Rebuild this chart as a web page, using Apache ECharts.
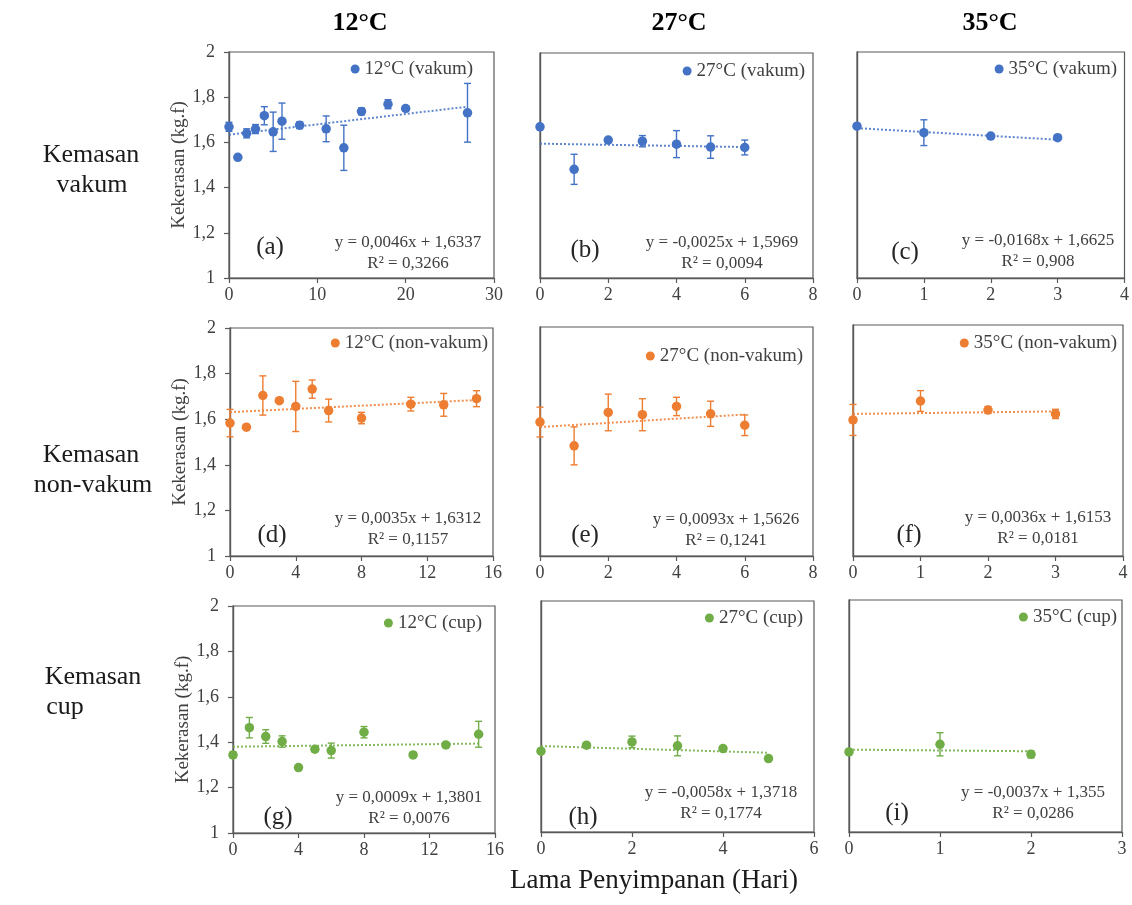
<!DOCTYPE html>
<html><head><meta charset="utf-8">
<script src="https://cdn.jsdelivr.net/npm/echarts@6/dist/echarts.min.js"></script>
<style>html,body{margin:0;padding:0;background:#fff}#c{width:1132px;height:905px}</style>
</head><body><div id="c"></div><script>
// ---------------- DATA ----------------
const colHeaders = ['12°C', '27°C', '35°C'];
const rowLabels = [['Kemasan', 'vakum'], ['Kemasan', 'non-vakum'], ['Kemasan', 'cup']];
const xAxisTitle = 'Lama Penyimpanan (Hari)';
const yAxisTitle = 'Kekerasan (kg.f)';
const yTickLabels = ['1', '1,2', '1,4', '1,6', '1,8', '2'];

const seriesNames = ['12°C (vakum)', '27°C (vakum)', '35°C (vakum)',
  '12°C (non-vakum)', '27°C (non-vakum)', '35°C (non-vakum)',
  '12°C (cup)', '27°C (cup)', '35°C (cup)'];
const panelTags = ['(a)', '(b)', '(c)', '(d)', '(e)', '(f)', '(g)', '(h)', '(i)'];
const eqLines = ['y = 0,0046x + 1,6337', 'y = -0,0025x + 1,5969', 'y = -0,0168x + 1,6625',
  'y = 0,0035x + 1,6312', 'y = 0,0093x + 1,5626', 'y = 0,0036x + 1,6153',
  'y = 0,0009x + 1,3801', 'y = -0,0058x + 1,3718', 'y = -0,0037x + 1,355'];
const r2Lines = ['R² = 0,3266', 'R² = 0,0094', 'R² = 0,908',
  'R² = 0,1157', 'R² = 0,1241', 'R² = 0,0181',
  'R² = 0,0076', 'R² = 0,1774', 'R² = 0,0286'];
const xMaxes = [30, 8, 4, 16, 8, 4, 16, 6, 3];
const xSteps = [10, 2, 1, 4, 2, 1, 4, 2, 1];

// (a) 12°C vakum
const daysA = [0, 1, 2, 3, 4, 5, 6, 8, 11, 13, 15, 18, 20, 27];
const hardA = [1.669, 1.534, 1.640, 1.659, 1.718, 1.647, 1.694, 1.676, 1.660, 1.576, 1.737, 1.769, 1.750, 1.731];
const errA  = [0.020, 0.006, 0.020, 0.020, 0.040, 0.087, 0.080, 0.015, 0.057, 0.100, 0.015, 0.020, 0.010, 0.130];
const trendA = [[0, 1.634], [27, 1.758]];
// (b) 27°C vakum
const daysB = [0, 1, 2, 3, 4, 5, 6];
const hardB = [1.672, 1.483, 1.613, 1.608, 1.595, 1.582, 1.580];
const errB  = [0.006, 0.067, 0.008, 0.025, 0.060, 0.050, 0.033];
const trendB = [[0, 1.597], [6, 1.582]];
// (c) 35°C vakum
const daysC = [0, 1, 2, 3];
const hardC = [1.672, 1.643, 1.628, 1.621];
const errC  = [0.006, 0.057, 0.008, 0.006];
const trendC = [[0, 1.663], [3, 1.612]];
// (d) 12°C non-vakum
const daysD = [0, 1, 2, 3, 4, 5, 6, 8, 11, 13, 15];
const hardD = [1.583, 1.565, 1.704, 1.681, 1.656, 1.732, 1.638, 1.605, 1.666, 1.663, 1.690];
const errD  = [0.060, 0.010, 0.086, 0.006, 0.110, 0.040, 0.050, 0.025, 0.030, 0.050, 0.035];
const trendD = [[0, 1.631], [15, 1.684]];
// (e) 27°C non-vakum
const daysE = [0, 1, 2, 3, 4, 5, 6];
const hardE = [1.585, 1.481, 1.627, 1.617, 1.653, 1.621, 1.571];
const errE  = [0.065, 0.083, 0.080, 0.070, 0.040, 0.055, 0.045];
const trendE = [[0, 1.563], [6, 1.618]];
// (f) 35°C non-vakum
const daysF = [0, 1, 2, 3];
const hardF = [1.589, 1.671, 1.632, 1.615];
const errF  = [0.067, 0.045, 0.015, 0.020];
const trendF = [[0, 1.615], [3, 1.626]];
// (g) 12°C cup
const daysG = [0, 1, 2, 3, 4, 5, 6, 8, 11, 13, 15];
const hardG = [1.344, 1.464, 1.425, 1.403, 1.288, 1.369, 1.363, 1.444, 1.344, 1.388, 1.435];
const errG  = [0.012, 0.045, 0.030, 0.025, 0.006, 0.010, 0.033, 0.025, 0.006, 0.008, 0.057];
const trendG = [[0, 1.380], [15, 1.394]];
// (h) 27°C cup
const daysH = [0, 1, 2, 3, 4, 5];
const hardH = [1.350, 1.376, 1.390, 1.373, 1.361, 1.318];
const errH  = [0.008, 0.008, 0.025, 0.043, 0.008, 0.006];
const trendH = [[0, 1.372], [5, 1.343]];
// (i) 35°C cup
const daysI = [0, 1, 2];
const hardI = [1.345, 1.378, 1.335];
const errI  = [0.006, 0.050, 0.015];
const trendI = [[0, 1.355], [2, 1.348]];

const allDays = [daysA, daysB, daysC, daysD, daysE, daysF, daysG, daysH, daysI];
const allHard = [hardA, hardB, hardC, hardD, hardE, hardF, hardG, hardH, hardI];
const allErr = [errA, errB, errC, errD, errE, errF, errG, errH, errI];
const allTrend = [trendA, trendB, trendC, trendD, trendE, trendF, trendG, trendH, trendI];

// ---------------- LAYOUT / STYLE ----------------
const W = 1132;
const FONT = 'Liberation Serif';
const rowColors = ['#4472C4', '#ED7D31', '#70AD47'];
const axisColor = '#595959';
const textColor = '#404040';
// plot rectangles [left, top, right, bottom]
const rects = [
  [229, 52, 494, 278], [540, 53, 813, 278], [857, 52, 1125, 278],
  [230, 328, 493, 556], [540, 327, 813, 556], [853, 325, 1123, 556],
  [233, 606, 495, 833], [541, 601, 814, 832], [849, 600, 1122, 832]
];
// legend: [text right edge, center y]
const legendPos = [[473, 69], [805, 71], [1117, 69], [488, 343], [803, 356], [1117, 343], [482, 623], [803, 618], [1117, 617]];
// equation block centre [x, y of first line]
const eqPos = [[408, 243], [722, 243], [1038, 241], [408, 519], [726, 520], [1038, 518], [409, 798], [721, 793], [1033, 793]];
const tagPos = [[270, 247], [585, 250], [905, 252], [272, 535], [585, 535], [909, 535], [278, 817], [583, 817], [897, 813]];
const headerPos = [[360, 23], [679, 23], [990, 23]];
const rowLabelPos = [[[91, 155], [92, 185]], [[91, 455], [93, 485]], [[93, 677], [65, 707]]];

const grids = [], xAxes = [], yAxes = [], series = [], legends = [], graphics = [];

function errRenderer(color) {
  return function (params, api) {
    const x = api.value(0), y = api.value(1), e = api.value(2);
    const top = api.coord([x, y + e]);
    const bot = api.coord([x, y - e]);
    const cw = 3.5;
    const style = { stroke: color, lineWidth: 1.4 };
    return {
      type: 'group', children: [
        { type: 'line', shape: { x1: top[0], y1: top[1], x2: bot[0], y2: bot[1] }, style: style },
        { type: 'line', shape: { x1: top[0] - cw, y1: top[1], x2: top[0] + cw, y2: top[1] }, style: style },
        { type: 'line', shape: { x1: bot[0] - cw, y1: bot[1], x2: bot[0] + cw, y2: bot[1] }, style: style }
      ]
    };
  };
}

for (let i = 0; i < 9; i++) {
  const row = Math.floor(i / 3), col = i % 3;
  const color = rowColors[row];
  const r = rects[i];
  grids.push({ left: r[0], top: r[1], width: r[2] - r[0], height: r[3] - r[1],
    show: true, borderColor: axisColor, borderWidth: 1.2, backgroundColor: 'transparent' });
  xAxes.push({
    type: 'value', gridIndex: i, min: 0, max: xMaxes[i], interval: xSteps[i],
    splitLine: { show: false },
    axisLine: { show: true, onZero: false, lineStyle: { color: axisColor, width: 1.4 } },
    axisTick: { show: true, length: 5, lineStyle: { color: axisColor, width: 1.2 } },
    axisLabel: { fontFamily: FONT, fontSize: 18, color: textColor, margin: 8 }
  });
  const first = col === 0;
  yAxes.push({
    type: 'value', gridIndex: i, min: 1, max: 2, interval: 0.2,
    splitLine: { show: false },
    axisLine: { show: true, onZero: false, lineStyle: { color: axisColor, width: 1.4 } },
    axisTick: { show: first, length: 5, lineStyle: { color: axisColor, width: 1.2 } },
    axisLabel: { show: first, fontFamily: FONT, fontSize: 18, color: textColor, margin: 14,
      formatter: function (v) { return yTickLabels[Math.round((v - 1) / 0.2)]; } },
    name: first ? yAxisTitle : '', nameLocation: 'middle', nameGap: 40, nameRotate: 90,
    nameTextStyle: { fontFamily: FONT, fontSize: 19, color: textColor }
  });
  const pts = allDays[i].map((d, k) => [d, allHard[i][k]]);
  const errs = allDays[i].map((d, k) => [d, allHard[i][k], allErr[i][k]]);
  series.push({
    type: 'line', xAxisIndex: i, yAxisIndex: i, data: allTrend[i], symbol: 'none', silent: true,
    clip: false, z: 1, lineStyle: { color: color, width: 2, type: [2, 2], opacity: 0.85 }
  });
  series.push({
    type: 'custom', xAxisIndex: i, yAxisIndex: i, data: errs, renderItem: errRenderer(color),
    clip: false, z: 2, silent: true
  });
  series.push({
    type: 'scatter', name: seriesNames[i], xAxisIndex: i, yAxisIndex: i, data: pts,
    symbol: 'circle', symbolSize: 9.5, clip: false, z: 3, itemStyle: { color: color, opacity: 1 }
  });
  legends.push({
    data: [seriesNames[i]], right: W - legendPos[i][0], top: legendPos[i][1] - 10,
    padding: 0, icon: 'circle', itemWidth: 9, itemHeight: 9, itemGap: 4, selectedMode: false,
    textStyle: { fontFamily: FONT, fontSize: 19, color: textColor, lineHeight: 20 }
  });
  graphics.push({ type: 'text', x: eqPos[i][0], y: eqPos[i][1], silent: true,
    style: { text: eqLines[i], fontFamily: FONT, fontSize: 17, fill: textColor, textAlign: 'center', textVerticalAlign: 'middle' } });
  graphics.push({ type: 'text', x: eqPos[i][0], y: eqPos[i][1] + 21, silent: true,
    style: { text: r2Lines[i], fontFamily: FONT, fontSize: 17, fill: textColor, textAlign: 'center', textVerticalAlign: 'middle' } });
  graphics.push({ type: 'text', x: tagPos[i][0], y: tagPos[i][1], silent: true,
    style: { text: panelTags[i], fontFamily: FONT, fontSize: 25, fill: '#262626', textAlign: 'center', textVerticalAlign: 'middle' } });
}

for (let c = 0; c < 3; c++) {
  graphics.push({ type: 'text', x: headerPos[c][0], y: headerPos[c][1], silent: true,
    style: { text: colHeaders[c], fontFamily: FONT, fontSize: 26, fontWeight: 'bold', fill: '#000', textAlign: 'center', textVerticalAlign: 'middle' } });
}
for (let r = 0; r < 3; r++) {
  for (let l = 0; l < 2; l++) {
    graphics.push({ type: 'text', x: rowLabelPos[r][l][0], y: rowLabelPos[r][l][1], silent: true,
      style: { text: rowLabels[r][l], fontFamily: FONT, fontSize: 26, fill: '#1a1a1a', textAlign: 'center', textVerticalAlign: 'middle' } });
  }
}
graphics.push({ type: 'text', x: 654, y: 881, silent: true,
  style: { text: xAxisTitle, fontFamily: FONT, fontSize: 27, fill: '#1a1a1a', textAlign: 'center', textVerticalAlign: 'middle' } });

const chart = echarts.init(document.getElementById('c'), null, { renderer: 'canvas' });
chart.setOption({
  animation: false,
  backgroundColor: '#fff',
  grid: grids, xAxis: xAxes, yAxis: yAxes, series: series, legend: legends, graphic: graphics
});
</script></body></html>
